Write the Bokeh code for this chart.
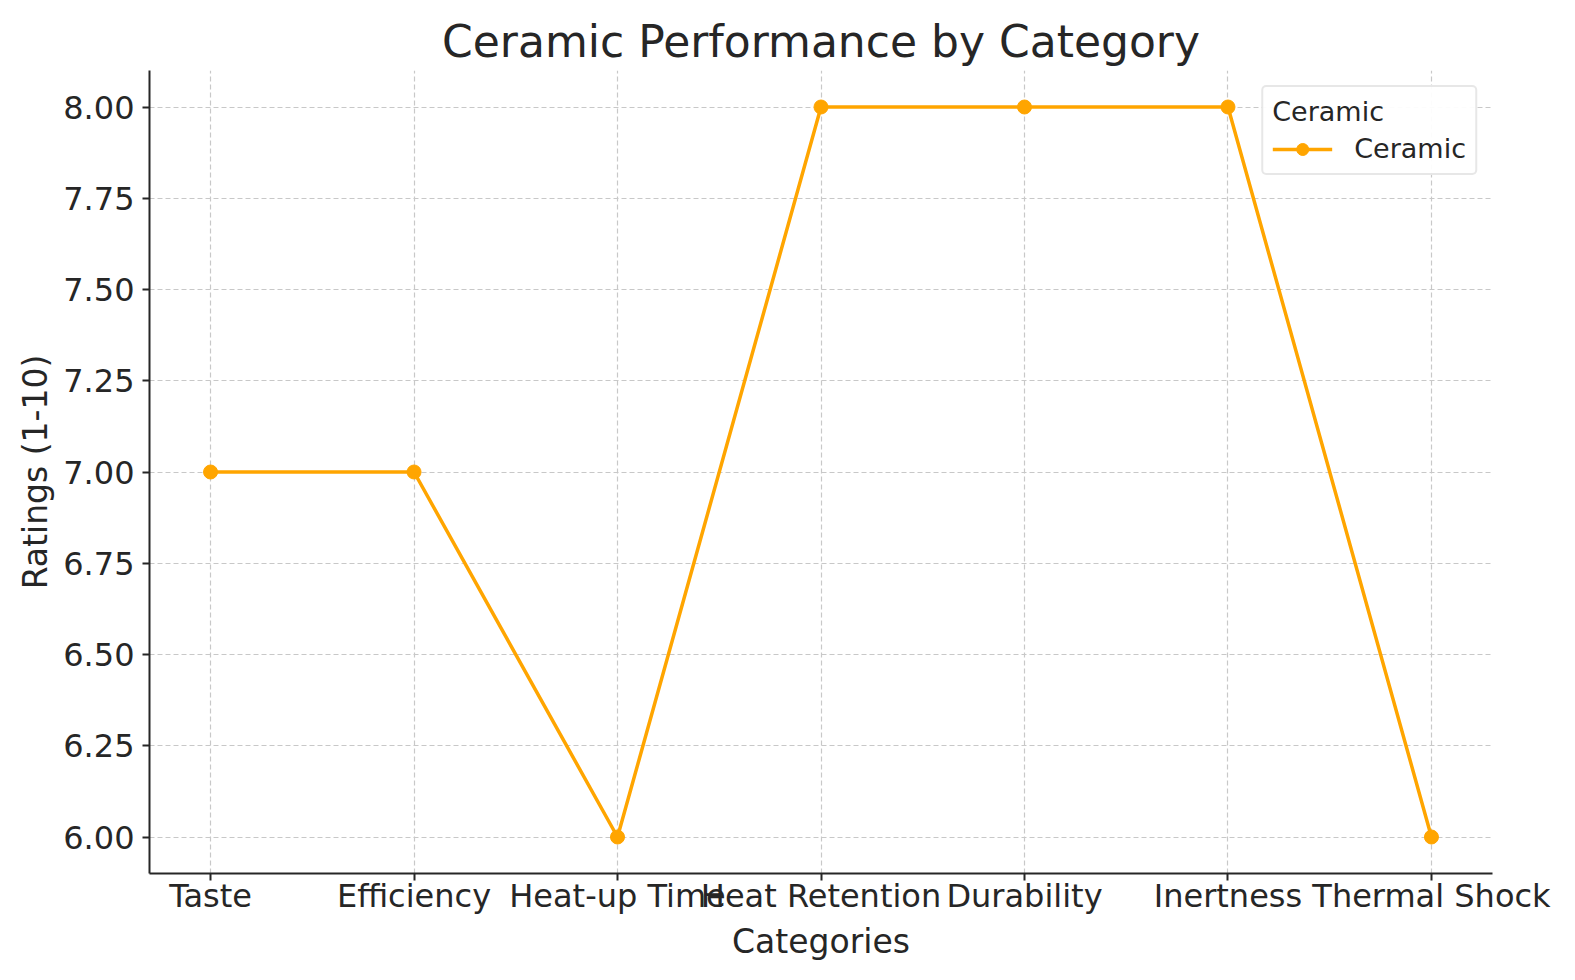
from bokeh.plotting import figure
from bokeh.models import FixedTicker, Range1d, Legend, LegendItem, ColumnDataSource
from bokeh.embed import file_html
from bokeh.resources import INLINE

categories = ["Taste", "Efficiency", "Heat-up Time", "Heat Retention", "Durability", "Inertness", "Thermal Shock"]
ratings = [7, 7, 6, 8, 8, 8, 6]
y_ticks = [6.0, 6.25, 6.5, 6.75, 7.0, 7.25, 7.5, 7.75, 8.0]

FONT = "DejaVu Sans"
TXT = "#262626"
ORANGE = "#FFA500"

xs = list(range(len(categories)))
src = ColumnDataSource(dict(x=xs, y=ratings))

p = figure(width=1567, height=972, output_backend="svg", toolbar_location=None,
           x_range=Range1d(-0.3, 6.3), y_range=Range1d(5.9, 8.1),
           min_border_left=149, min_border_right=75, min_border_top=70, min_border_bottom=99)
p.title.text = "Ceramic Performance by Category"
p.title.text_font = FONT
p.title.text_font_size = "44px"
p.title.text_font_style = "normal"
p.title.text_color = TXT
p.title.align = "center"
p.title.offset = 0
p.title.standoff = 8
p.outline_line_color = None

ln = p.line("x", "y", source=src, line_color=ORANGE, line_width=3.5)
sc = p.scatter("x", "y", source=src, size=14, fill_color=ORANGE, line_color=ORANGE)

p.xaxis.ticker = FixedTicker(ticks=xs)
p.xaxis.major_label_overrides = {i: c for i, c in enumerate(categories)}
p.yaxis.ticker = FixedTicker(ticks=y_ticks)
p.yaxis.major_label_overrides = {t: f"{t:.2f}" for t in y_ticks}

for ax in (p.xaxis[0], p.yaxis[0]):
    ax.major_label_text_font = FONT
    ax.major_label_text_font_size = "32px"
    ax.major_label_text_color = TXT
    ax.axis_label_text_font = FONT
    ax.axis_label_text_font_size = "33px"
    ax.axis_label_text_font_style = "normal"
    ax.axis_label_text_color = TXT
    ax.axis_line_color = TXT
    ax.axis_line_width = 2
    ax.major_tick_line_color = TXT
    ax.major_tick_line_width = 2
    ax.major_tick_out = 7
    ax.major_tick_in = 0
    ax.minor_tick_line_color = None
p.xaxis.axis_label = "Categories"
p.yaxis.axis_label = "Ratings (1-10)"
p.xaxis.major_label_standoff = -4
p.yaxis.major_label_standoff = 8
p.xaxis.axis_label_standoff = 4
p.yaxis.axis_label_standoff = 5

p.xgrid.ticker = FixedTicker(ticks=xs)
p.ygrid.ticker = FixedTicker(ticks=y_ticks)
for g in (p.xgrid[0], p.ygrid[0]):
    g.grid_line_color = "#c8c8c8"
    g.grid_line_dash = "5 3"
    g.grid_line_width = 1.2

legend = Legend(items=[LegendItem(label="Ceramic", renderers=[ln, sc])],
                location="top_right", title="Ceramic")
legend.title_text_font = FONT
legend.title_text_font_size = "27px"
legend.title_text_font_style = "normal"
legend.title_text_color = TXT
legend.title_standoff = 6
legend.label_text_font = FONT
legend.label_text_font_size = "27px"
legend.label_text_color = TXT
legend.label_standoff = 22
legend.border_line_color = "#d0d0d0"
legend.border_line_width = 2
legend.border_radius = 5
legend.glyph_width = 60
legend.glyph_height = 30
legend.label_height = 30
legend.margin = 15
legend.padding = 9
legend.spacing = 0
p.add_layout(legend)

open("out.html", "w").write(file_html(p, INLINE))
